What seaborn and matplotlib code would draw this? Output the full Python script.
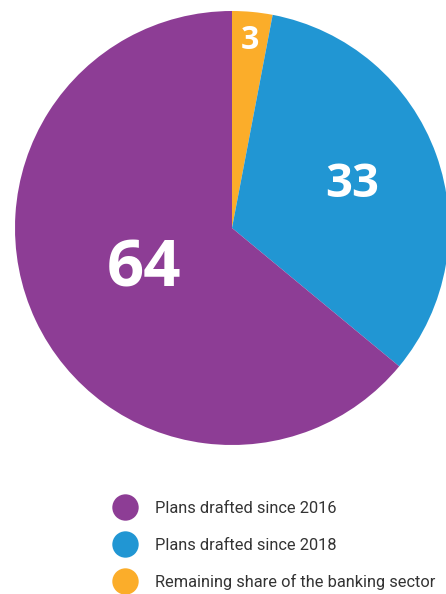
import numpy as np
import seaborn as sns
from matplotlib import pyplot as plt
from matplotlib.lines import Line2D

sns.set_style("white")
plt.rcParams['font.family'] = ['Roboto', 'DejaVu Sans']

# data, clockwise from the top
values = [3, 33, 64]
value_labels = ['3', '33', '64']
legend_labels = ['Plans drafted since 2016', 'Plans drafted since 2018',
                 'Remaining share of the banking sector']
colors = ['#FBAD2A', '#2196D3', '#8D3D95']   # orange, blue, purple
label_sizes = [23, 34, 47]
label_dist = [0.87, 0.59, 0.45]

fig = plt.figure(figsize=(4.46, 5.94), dpi=100)
# pie centre at (232, 228) px, radius 217 px
ax = fig.add_axes([(232 - 217) / 446, (594 - 228 - 217) / 594, 434 / 446, 434 / 594])
wedges, _ = ax.pie(values, colors=colors, startangle=90, counterclock=False,
                   radius=1, wedgeprops=dict(linewidth=0))
ax.set_xlim(-1, 1)
ax.set_ylim(-1, 1)
ax.set_aspect('equal')
ax.axis('off')

for w, lab, s, d in zip(wedges, value_labels, label_sizes, label_dist):
    ang = np.deg2rad((w.theta1 + w.theta2) / 2)
    ax.text(d * np.cos(ang), d * np.sin(ang), lab, color='white', fontsize=s,
            fontweight='bold', family=['Open Sans', 'DejaVu Sans'],
            ha='center', va='center')

# legend: purple, blue, orange
leg_colors = [colors[2], colors[1], colors[0]]
handles = [Line2D([], [], marker='o', linestyle='none', markersize=19,
                  markerfacecolor=c, markeredgewidth=0) for c in leg_colors]
fig.legend(handles, legend_labels, loc='upper left',
           bbox_to_anchor=(108 / 446, 1 - 493 / 594), frameon=False,
           fontsize=11.8, labelcolor='#333333', handlelength=1.1,
           handletextpad=1.25, labelspacing=1.3, borderpad=0)

fig.savefig('out.png', dpi=100)
